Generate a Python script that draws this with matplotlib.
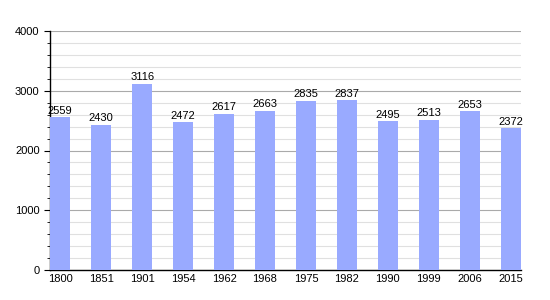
import numpy as np
import matplotlib.pyplot as plt
from matplotlib.ticker import MultipleLocator

plt.rcParams['font.family'] = ['Liberation Sans', 'DejaVu Sans']

# Datos
anios = ['1800', '1851', '1901', '1954', '1962', '1968', '1975', '1982', '1990', '1999', '2006', '2015']
poblacion = [2559, 2430, 3116, 2472, 2617, 2663, 2835, 2837, 2495, 2513, 2653, 2372]

fig = plt.figure(figsize=(5.5, 3), dpi=100)
ax = fig.add_axes([50 / 550, 30 / 300, 471 / 550, 239 / 300])

x = np.arange(len(anios))
barras = ax.bar(x, poblacion, width=0.5, color='#99aaff', zorder=3)
ax.bar_label(barras, labels=[str(v) for v in poblacion], padding=1, fontsize=8, zorder=4)

ax.set_xlim(-0.25, len(anios) - 0.75)
ax.set_ylim(0, 4000)
ax.set_xticks(x)
ax.set_xticklabels(anios)
ax.yaxis.set_major_locator(MultipleLocator(1000))
ax.yaxis.set_minor_locator(MultipleLocator(200))

ax.grid(axis='y', which='major', color='#aaaaaa', linewidth=0.8, zorder=0)
ax.grid(axis='y', which='minor', color='#e0e0e0', linewidth=0.8, zorder=0)

for lado in ['top', 'right']:
    ax.spines[lado].set_visible(False)
ax.spines['left'].set_linewidth(1)
ax.spines['bottom'].set_linewidth(1)

ax.tick_params(axis='x', length=0, labelsize=8, pad=3)
ax.tick_params(axis='y', which='major', length=4, labelsize=8)
ax.tick_params(axis='y', which='minor', length=2)

fig.savefig('out.png', dpi=100)
